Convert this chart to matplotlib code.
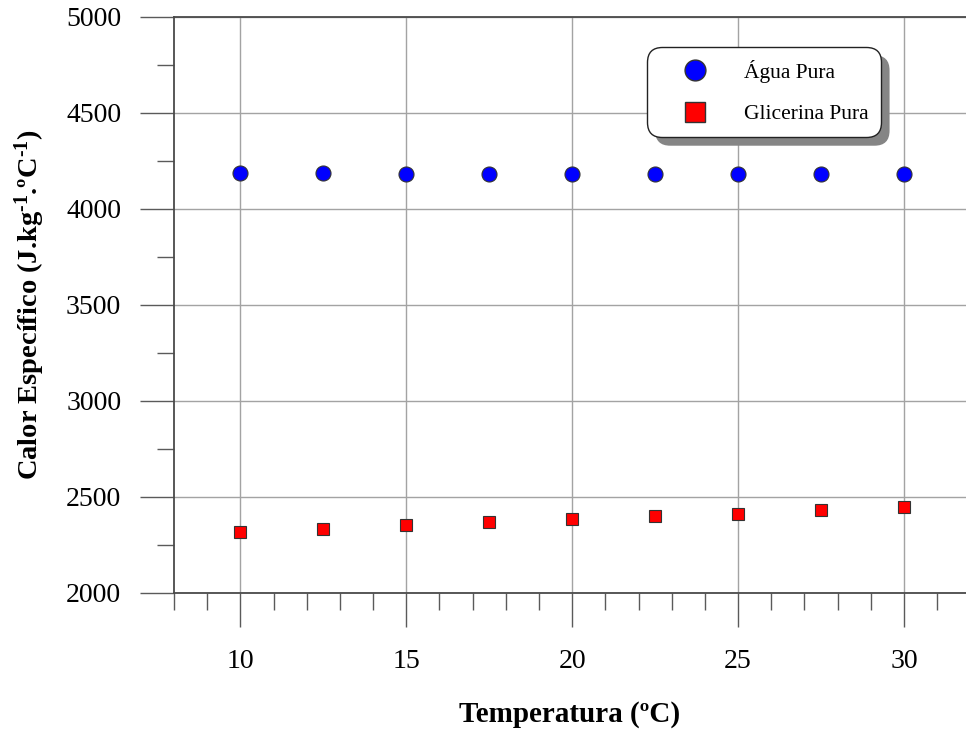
import matplotlib
matplotlib.use("Agg")
import matplotlib.pyplot as plt
from matplotlib.ticker import MultipleLocator
from matplotlib.patches import Shadow

temperatura = [10, 12.5, 15, 17.5, 20, 22.5, 25, 27.5, 30]
agua_pura = [4186, 4187, 4182, 4182, 4182, 4181, 4181, 4181, 4180]
glicerina_pura = [2319, 2333, 2353, 2371, 2385, 2401, 2413, 2432, 2446]
serie_labels = ["Água Pura", "Glicerina Pura"]
x_label = "Temperatura (ºC)"
y_label = r"Calor Específico (J.kg$^{\text{-1}}$.ºC$^{\text{-1}}$)"

plt.rcParams["font.family"] = ["Liberation Serif", "DejaVu Serif"]
plt.rcParams["mathtext.fontset"] = "custom"
plt.rcParams["mathtext.rm"] = "Liberation Serif:bold"
plt.rcParams["mathtext.bf"] = "Liberation Serif:bold"
plt.rcParams["mathtext.it"] = "Liberation Serif:italic"

fig = plt.figure(figsize=(9.66, 7.31), dpi=100)
ax = fig.add_axes([174 / 966, 1 - 593 / 731, 792 / 966, 576 / 731])

spine_c = "#4a4a4a"
grid_c = "#a3a3a3"

ax.plot(temperatura, agua_pura, linestyle="none", marker="o", markersize=10.8,
        markerfacecolor="#0000ff", markeredgecolor="#333333", markeredgewidth=0.8,
        label=serie_labels[0], zorder=3, clip_on=False)
ax.plot(temperatura, glicerina_pura, linestyle="none", marker="s", markersize=9.2,
        markerfacecolor="#ff0000", markeredgecolor="#333333", markeredgewidth=0.8,
        label=serie_labels[1], zorder=3, clip_on=False)

ax.set_xlim(8, 31.87)
ax.set_ylim(2000, 5000)

ax.xaxis.set_major_locator(MultipleLocator(5))
ax.xaxis.set_minor_locator(MultipleLocator(1))
ax.yaxis.set_major_locator(MultipleLocator(500))
ax.yaxis.set_minor_locator(MultipleLocator(250))

ax.grid(True, which="major", color=grid_c, linewidth=1.0)
ax.set_axisbelow(True)

ax.tick_params(axis="both", which="major", direction="out", length=24.5, width=1.0,
               color="#5a5a5a", labelsize=20, labelcolor="black")
ax.tick_params(axis="both", which="minor", direction="out", length=12, width=1.0,
               color="#5a5a5a")
ax.tick_params(axis="x", which="major", pad=15.5)
ax.tick_params(axis="y", which="major", pad=13.5)

for side in ["left", "bottom", "top"]:
    ax.spines[side].set_color(spine_c)
    ax.spines[side].set_linewidth(1.3)
ax.spines["right"].set_visible(False)

ax.set_xlabel(x_label, fontsize=21, fontweight="bold", va="center")
ax.xaxis.set_label_coords(0.5, -0.211)
ax.set_ylabel(y_label, fontsize=20.5, fontweight="bold", va="center")
ax.yaxis.set_label_coords(-0.182, 0.5)

leg = ax.legend(loc="upper left", bbox_to_anchor=(0.597, 0.948), fontsize=15.5,
                frameon=True, fancybox=True, borderpad=0.6, labelspacing=1.0,
                handlelength=3.3, handletextpad=0.6, borderaxespad=0,
                numpoints=1)
for h in leg.legend_handles:
    h.set_markersize(15)
    h.set_markeredgewidth(1.0)
leg.get_frame().set_edgecolor("#222222")
leg.get_frame().set_linewidth(1.0)
leg.get_frame().set_facecolor("white")
leg.get_frame().set_alpha(1.0)
leg.legendPatch.set_boxstyle("round", pad=0, rounding_size=0.7)
leg.set_zorder(5)

sh = Shadow(leg.legendPatch, 6, -6)
sh.set_facecolor("#858585")
sh.set_edgecolor("none")
sh.set_alpha(1.0)
sh.set_zorder(4.9)
ax.add_artist(sh)

fig.canvas.draw()
fig.savefig("out.png", dpi=100)
